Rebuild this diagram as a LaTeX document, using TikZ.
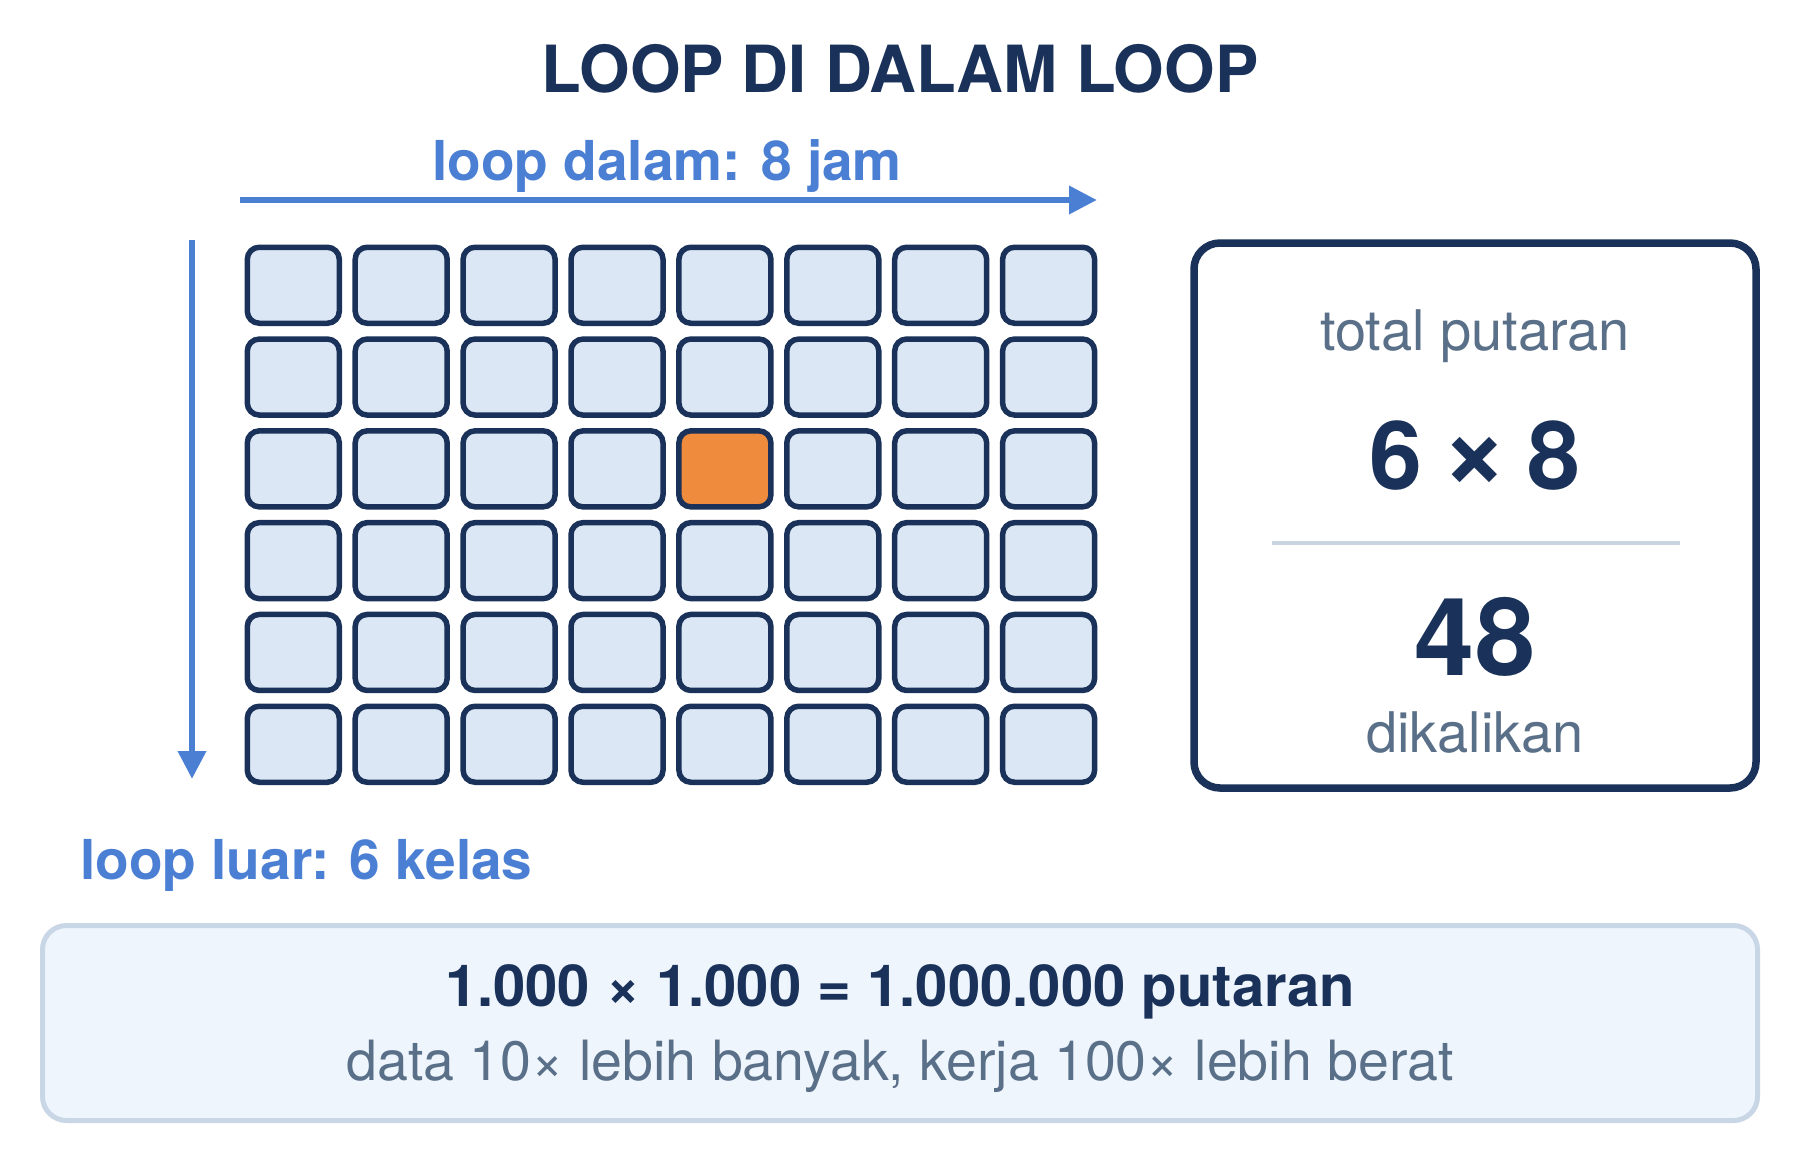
\documentclass[tikz,border=0pt]{standalone}
\usepackage{fontspec}
\setmainfont{TeX Gyre Heros}
\usetikzlibrary{arrows.meta}
\definecolor{navy}{HTML}{1A3259}
\definecolor{loopblue}{HTML}{4A7FD4}
\definecolor{slate}{HTML}{5A7089}
\definecolor{cellfill}{HTML}{DCE7F5}
\definecolor{hot}{HTML}{EE8B3D}
\definecolor{sepline}{HTML}{C8D5E0}
\definecolor{notefill}{HTML}{EEF5FD}
\definecolor{noteline}{HTML}{C9D6E6}
\newcommand{\bigtimes}{\raisebox{0.01em}{\scalebox{1.2}{×}}}
\tikzset{
  cellbox/.style={draw=navy, line width=5.5pt, fill=cellfill, rounded corners=12pt,
    minimum width=92pt, minimum height=76pt, inner sep=0pt, outer sep=0pt},
  hotcell/.style={cellbox, fill=hot},
  looparrow/.style={draw=loopblue, line width=6.5pt, -{Triangle[length=28pt,width=27pt]}},
  bluelabel/.style={text=loopblue, font=\fontsize{55}{66}\selectfont\bfseries, inner sep=0pt},
  slatetext/.style={text=slate, font=\fontsize{56}{67}\selectfont, inner sep=0pt},
}
\begin{document}
\begin{tikzpicture}[x=1pt,y=-1pt]
\useasboundingbox (0,0) rectangle (1800,1160);
\fill[white] (0,0) rectangle (1800,1160);

% title
\node[anchor=base, text=navy, font=\fontsize{65}{78}\selectfont\bfseries, inner sep=0pt] (title) at (900,92) {LOOP DI DALAM LOOP};

% inner loop label and arrow
\node[bluelabel, anchor=base] (inner) at (667,180) {loop dalam: 8 jam};
\coordinate (hs) at (240,200);
\coordinate (he) at (1097,200);
\draw[looparrow] (hs) -- (he);

% outer loop arrow and label
\coordinate (vs) at (192,240);
\coordinate (ve) at (192,779);
\draw[looparrow] (vs) -- (ve);
\node[bluelabel, anchor=base west] (outer) at (80,879) {loop luar: 6 kelas};

% grid
\foreach \r in {0,...,5}{
  \foreach \c in {0,...,7}{
    \pgfmathsetmacro{\cx}{244.5+48.8+\c*107.9}
    \pgfmathsetmacro{\cy}{244.5+40.75+\r*91.8}
    \ifnum\r=2 \ifnum\c=4
      \node[hotcell] (c-\r-\c) at (\cx,\cy) {};
    \else
      \node[cellbox] (c-\r-\c) at (\cx,\cy) {};
    \fi\else
      \node[cellbox] (c-\r-\c) at (\cx,\cy) {};
    \fi
  }
}

% total box
\node[draw=navy, line width=7.5pt, rounded corners=26pt, fill=white,
  minimum width=562pt, minimum height=545pt, inner sep=0pt] (total) at (1475,515.5) {};
\node[slatetext, anchor=base] (tp) at (1475,350) {total putaran};
\node[anchor=base, text=navy, font=\fontsize{95}{110}\selectfont\bfseries, inner sep=0pt] (prod) at (1475,489) {6\hspace{0.2em}\bigtimes\hspace{0.2em}8};
\coordinate (sl) at (1272,543);
\coordinate (sr) at (1680,543);
\draw[sepline, line width=4.5pt] (sl) -- (sr);
\node[anchor=base, text=navy, font=\fontsize{108}{120}\selectfont\bfseries, inner sep=0pt] (res) at (1475,675) {48};
\node[slatetext, anchor=base] (dk) at (1475,752) {dikalikan};

% bottom note
\node[draw=noteline, line width=5pt, rounded corners=24pt, fill=notefill,
  minimum width=1715pt, minimum height=195pt, inner sep=0pt] (note) at (900,1023) {};
\node[anchor=base, text=navy, font=\fontsize{58}{70}\selectfont\bfseries, inner sep=0pt] (eq) at (900,1006) {1.000 × 1.000 = 1.000.000 putaran};
\node[slatetext, anchor=base, font=\fontsize{55.5}{67}\selectfont] (sub) at (900,1080) {data 10× lebih banyak, kerja 100× lebih berat};
\end{tikzpicture}
\end{document}
